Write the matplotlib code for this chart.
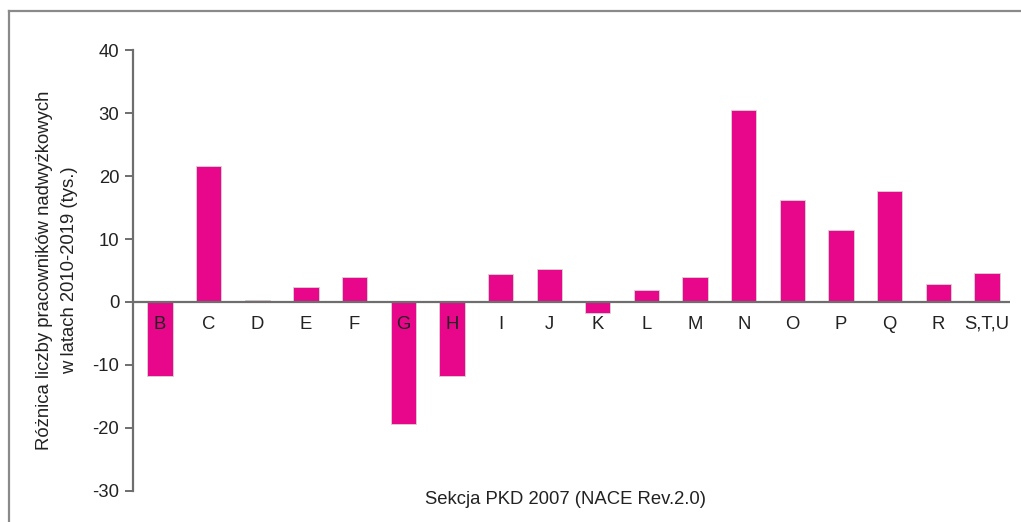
import numpy as np
import matplotlib.pyplot as plt
from matplotlib.lines import Line2D

plt.rcParams['font.family'] = ['Liberation Sans', 'DejaVu Sans']

sections = ['B', 'C', 'D', 'E', 'F', 'G', 'H', 'I', 'J', 'K', 'L', 'M',
            'N', 'O', 'P', 'Q', 'R', 'S,T,U']
diff = [-11.7, 21.6, 0.3, 2.4, 4.0, -19.4, -11.7, 4.4, 5.2, -1.8, 1.9, 4.0,
        30.5, 16.2, 11.4, 17.6, 2.9, 4.6]
yticks = [-30, -20, -10, 0, 10, 20, 30, 40]

bar_color = '#e8078a'
axis_color = '#6e6e6e'
text_color = '#222222'
fs = 13.3

fig = plt.figure(figsize=(10.21, 5.22), dpi=100)
ax = fig.add_axes([0.1303, 0.0594, 0.8587, 0.8448])

x = np.arange(len(sections))
ax.bar(x, diff, width=0.52, color=bar_color, edgecolor='#d6d6d6', linewidth=0.6, zorder=2)
ax.axhline(0, color=axis_color, linewidth=1.6, zorder=3)

for xi, lab in zip(x, sections):
    ax.annotate(lab, (xi, 0), xytext=(0, -16), textcoords='offset points',
                ha='center', va='center', fontsize=fs, color=text_color, zorder=4)

ax.set_xlim(-0.555, 17.47)
ax.set_ylim(-30, 40)
ax.set_yticks(yticks)
ax.set_yticklabels([str(t) for t in yticks], fontsize=fs, color=text_color)
ax.set_xticks([])

for s in ['top', 'right', 'bottom']:
    ax.spines[s].set_visible(False)
ax.spines['left'].set_color(axis_color)
ax.spines['left'].set_linewidth(1.6)
ax.tick_params(axis='y', direction='out', length=6, width=1.4, color=axis_color, pad=4)

fig.text(57 / 1021, 1 - 270 / 522,
         'Różnica liczby pracowników nadwyżkowych\nw latach 2010-2019 (tys.)',
         rotation=90, ha='center', va='center', fontsize=fs, color=text_color,
         linespacing=1.55, multialignment='center')

fig.text(565 / 1021, 1 - 500 / 522, 'Sekcja PKD 2007 (NACE Rev.2.0)',
         ha='center', va='center', fontsize=fs, color=text_color)

# frame around the figure (only top and left visible)
fig.add_artist(Line2D([9 / 1021, 1.0], [1 - 11 / 522, 1 - 11 / 522],
                      transform=fig.transFigure, color='#8a8a8a', linewidth=1.6))
fig.add_artist(Line2D([9 / 1021, 9 / 1021], [0.0, 1 - 11 / 522],
                      transform=fig.transFigure, color='#8a8a8a', linewidth=1.6))

fig.savefig('out.png', dpi=100)
